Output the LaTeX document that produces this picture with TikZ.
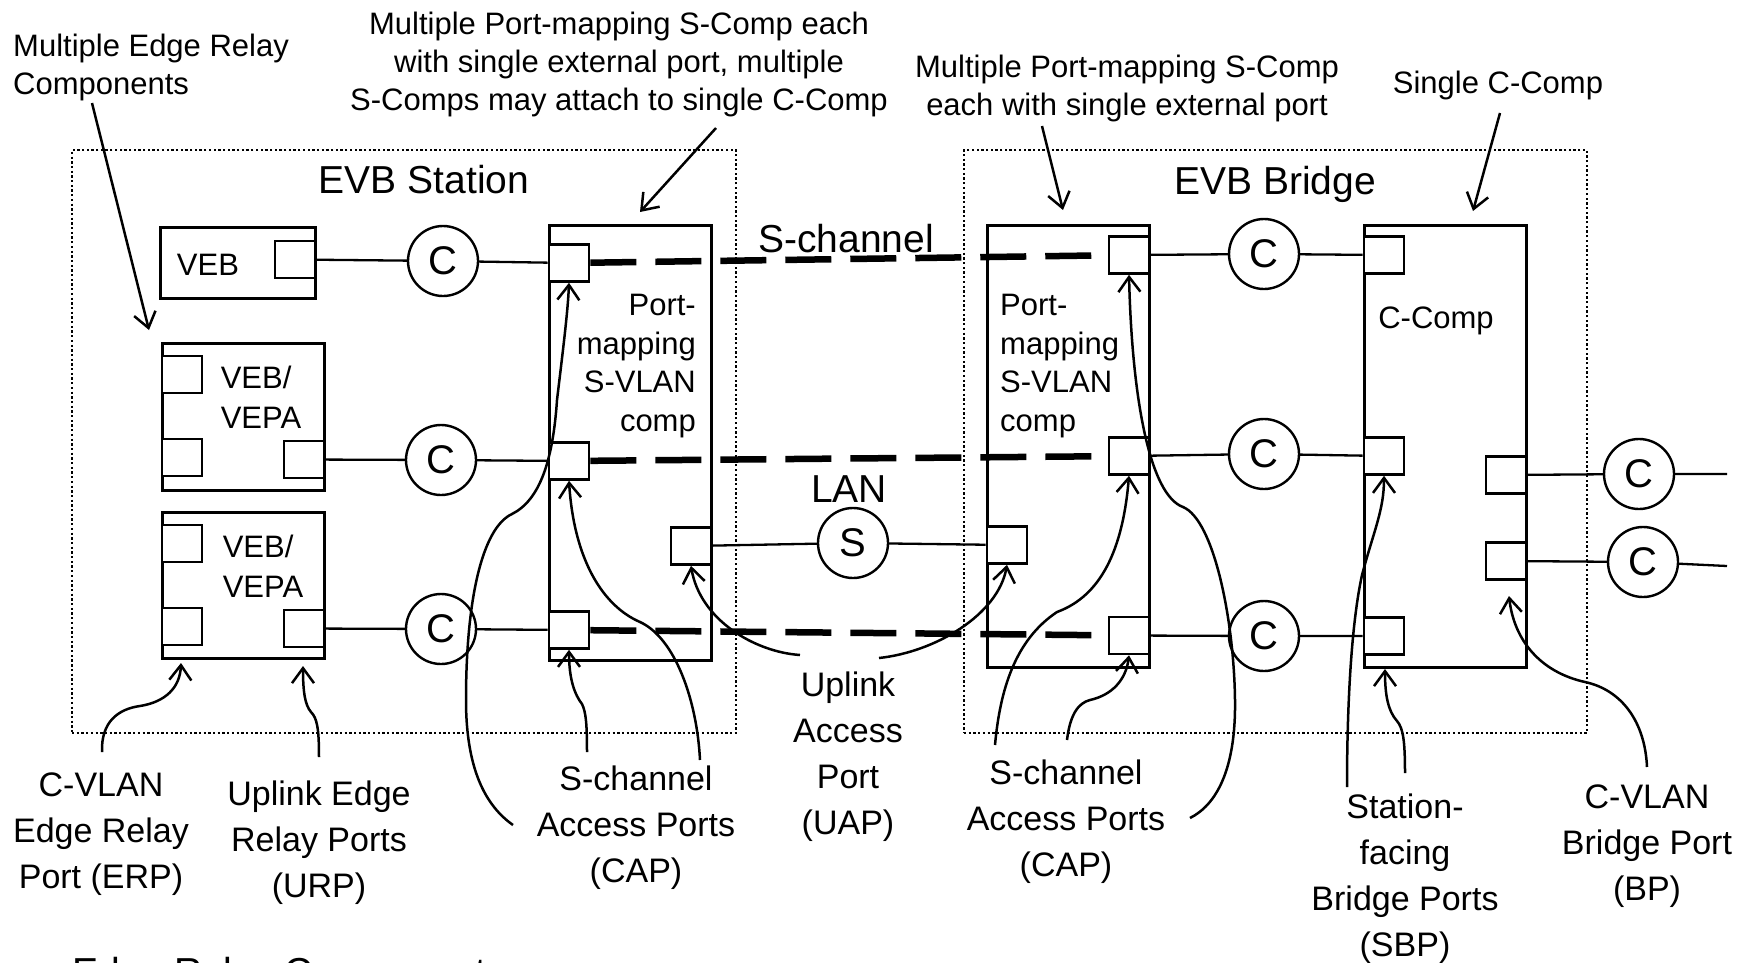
\documentclass[tikz,border=0pt]{standalone}
\usepackage{fontspec}
\setmainfont{Liberation Sans}
\usetikzlibrary{arrows.meta}

\newcommand{\bigtxt}{\fontsize{39}{44}\selectfont}
\newcommand{\toptxt}{\fontsize{31}{38}\selectfont}
\newcommand{\boxtxt}{\fontsize{31}{38.5}\selectfont}
\newcommand{\bottxt}{\fontsize{34}{46}\selectfont}

\begin{document}
\begin{tikzpicture}[x=1pt,y=-1pt,
        grp/.style={draw,line width=2.3pt,dash pattern=on 2.3pt off 2.4pt,inner sep=0},
        comp/.style={draw,fill=white,line width=3pt,inner sep=0},
        port/.style={draw,fill=white,line width=2.6pt,minimum width=40pt,minimum height=37pt,inner sep=0},
        chan/.style={draw,circle,fill=white,line width=2.4pt,minimum size=70pt,inner sep=0,font=\fontsize{40}{40}\selectfont},
        link/.style={line width=2.3pt},
        schan/.style={line width=6.5pt,dash pattern=on 46pt off 19pt},
        callout/.style={line width=2.5pt,-{Straight Barb[length=15pt,width=22pt]}},
        txt/.style={inner sep=0}]
            \useasboundingbox (0,0) rectangle (1749,962);

            \node[grp,minimum width=664pt,minimum height=583pt] (station) at (404,441.5) {};
            \node[grp,minimum width=623pt,minimum height=583pt] (bridge) at (1275.5,441.5) {};
            \node[txt,font=\bigtxt,anchor=base] (station_t) at (424,193) {EVB Station};
            \node[txt,font=\bigtxt,anchor=base] (bridge_t) at (1275,194) {EVB Bridge};

            \node[comp,minimum width=155pt,minimum height=71pt] (veb) at (237.5,262.5) {};
            \node[port] (veb_p) at (295,259.5) {};
            \node[txt,font=\boxtxt,anchor=base] (veb_t) at (208,275) {VEB};

            \node[comp,minimum width=162pt,minimum height=147pt] (vepa_1) at (243,416.5) {};
            \node[port] (vepa_1_tl) at (182,374.5) {};
            \node[port] (vepa_1_bl) at (182,457.5) {};
            \node[port] (vepa_1_br) at (304,459.5) {};
            \node[txt,font=\fontsize{31}{40}\selectfont,align=left] (vepa_1_t) at (261,397) {VEB/\\VEPA};

            \node[comp,minimum width=162pt,minimum height=146pt] (vepa_2) at (243,585) {};
            \node[port] (vepa_2_tl) at (182,543.5) {};
            \node[port] (vepa_2_bl) at (182,626.5) {};
            \node[port] (vepa_2_br) at (304,628.5) {};
            \node[txt,font=\fontsize{31}{40}\selectfont,align=left] (vepa_2_t) at (263,566) {VEB/\\VEPA};

            \node[chan] (c_s1) at (443,261) {C};
            \node[chan] (c_s2) at (441,460) {C};
            \node[chan] (c_s3) at (441,629) {C};

            \node[comp,minimum width=162pt,minimum height=435pt] (scomp_s) at (630,442.5) {};
            \node[port] (cap_s1) at (569,263) {};
            \node[port] (cap_s2) at (569,461) {};
            \node[port] (cap_s3) at (569,630) {};
            \node[port] (uap_s) at (691,546) {};
            \node[txt,font=\boxtxt,align=right,anchor=east] (scomp_s_t) at (696,366) {Port-\\mapping\\S-VLAN\\comp};

            \node[comp,minimum width=162pt,minimum height=442pt] (scomp_b) at (1068,446) {};
            \node[port] (cap_b1) at (1129,255) {};
            \node[port] (cap_b2) at (1129,456) {};
            \node[port] (cap_b3) at (1129,635.5) {};
            \node[port] (uap_b) at (1007,545) {};
            \node[txt,font=\boxtxt,align=left,anchor=west] (scomp_b_t) at (1000,366) {Port-\\mapping\\S-VLAN\\comp};

            \node[chan] (c_b1) at (1264,254) {C};
            \node[chan] (c_b2) at (1264,454) {C};
            \node[chan] (c_b3) at (1264,636) {C};

            \node[comp,minimum width=162pt,minimum height=442pt] (ccomp) at (1445,446) {};
            \node[port] (sbp_1) at (1384,255) {};
            \node[port] (sbp_2) at (1384,456) {};
            \node[port] (sbp_3) at (1384,636) {};
            \node[port] (bp_1) at (1506,475) {};
            \node[port] (bp_2) at (1506,561) {};
            \node[txt,font=\boxtxt,anchor=base] (ccomp_t) at (1436,328) {C-Comp};

            \node[chan] (c_o1) at (1639,474) {C};
            \node[chan] (c_o2) at (1643,562) {C};
            \coordinate (end_1) at (1727,474);
            \coordinate (end_2) at (1727,566);

            \node[chan] (lan_s) at (853,543) {S};
            \node[txt,font=\bigtxt,anchor=base] (lan_t) at (849,502) {LAN};
            \node[txt,font=\bigtxt,anchor=base] (schan_t) at (846,252) {S-channel};

            \draw[link] (veb_p) -- (c_s1) -- (cap_s1);
            \draw[link] (vepa_1_br) -- (c_s2) -- (cap_s2);
            \draw[link] (vepa_2_br) -- (c_s3) -- (cap_s3);
            \draw[link] (uap_s) -- (lan_s) -- (uap_b);
            \draw[link] (cap_b1) -- (c_b1) -- (sbp_1);
            \draw[link] (cap_b2) -- (c_b2) -- (sbp_2);
            \draw[link] (cap_b3) -- (c_b3) -- (sbp_3);
            \draw[link] (bp_1) -- (c_o1) -- (end_1);
            \draw[link] (bp_2) -- (c_o2) -- (end_2);

            \draw[schan] (cap_s1) -- (cap_b1);
            \draw[schan] (cap_s2) -- (cap_b2);
            \draw[schan] (cap_s3) -- (cap_b3);

            %%%%%%%%%%%%%%%%%%%%
            \node[txt,font=\toptxt,align=left,anchor=west] (erc_t) at (13,67) {Multiple Edge Relay\\Components};
            \node[txt,font=\toptxt,align=center] (pm_s_t) at (619,64) {Multiple Port-mapping S-Comp each\\with single external port, multiple\\S-Comps may attach to single C-Comp};
            \node[txt,font=\toptxt,align=center] (pm_b_t) at (1127,88) {Multiple Port-mapping S-Comp\\each with single external port};
            \node[txt,font=\toptxt,anchor=base] (cc_t) at (1498,93) {Single C-Comp};

            \node[txt,font=\bottxt,align=center] (erp_t) at (101,834) {C-VLAN\\Edge Relay\\Port (ERP)};
            \node[txt,font=\bottxt,align=center] (urp_t) at (319,843) {Uplink Edge\\Relay Ports\\(URP)};
            \node[txt,font=\bottxt,align=center] (cap_s_t) at (636,828) {S-channel\\Access Ports\\(CAP)};
            \node[txt,font=\bottxt,align=center] (uap_t) at (848,757) {Uplink\\Access\\Port\\(UAP)};
            \node[txt,font=\bottxt,align=center] (cap_b_t) at (1066,822) {S-channel\\Access Ports\\(CAP)};
            \node[txt,font=\bottxt,align=center] (sbp_t) at (1405,879) {Station-\\facing\\Bridge Ports\\(SBP)};
            \node[txt,font=\bottxt,align=center] (bp_t) at (1647,846) {C-VLAN\\Bridge Port\\(BP)};
            \node[txt,font=\bigtxt,anchor=base west] (erc_b_t) at (72,985) {Edge Relay Components};

            \coordinate (erc_a) at (92,103);
            \coordinate (erc_b) at (149,330);
            \draw[callout] (erc_a) -- (erc_b);
            \coordinate (pm_s_a) at (716,128);
            \coordinate (pm_s_b) at (640,212);
            \draw[callout] (pm_s_a) -- (pm_s_b);
            \coordinate (pm_b_a) at (1042,126);
            \coordinate (pm_b_b) at (1063,210);
            \draw[callout] (pm_b_a) -- (pm_b_b);
            \coordinate (cc_a) at (1500,113);
            \coordinate (cc_b) at (1473,211);
            \draw[callout] (cc_a) -- (cc_b);

            \coordinate (erp_a) at (102,752);
            \coordinate (erp_b) at (181,663);
            \draw[callout] (erp_a) .. controls (101,722) and (118,709) .. (140,706)
                .. controls (165,702) and (180,688) .. (erp_b);
            \coordinate (urp_a) at (319,757);
            \coordinate (urp_b) at (303,666);
            \draw[callout] (urp_a) .. controls (319,728) and (317,718) .. (311,712)
                .. controls (305,705) and (303,692) .. (urp_b);

            \coordinate (cap_s_a) at (513,825);
            \coordinate (cap_s_b) at (700,760);
            \coordinate (cap_s_c) at (587,752);
            \draw[callout] (cap_s_a) .. controls (486,806) and (466,770) .. (466,700)
                .. controls (466,600) and (482,528) .. (512,514)
                .. controls (540,500) and (553,460) .. (557,400)
                .. controls (563,350) and (568,310) .. (cap_s1.south);
            \draw[callout] (cap_s_b) .. controls (697,700) and (675,638) .. (640,622)
                .. controls (603,606) and (574,560) .. (cap_s2.south);
            \draw[callout] (cap_s_c) .. controls (587,725) and (586,712) .. (582,704)
                .. controls (575,695) and (569,680) .. (cap_s3.south);

            \coordinate (uap_l) at (800,655);
            \coordinate (uap_r) at (879,658);
            \draw[callout] (uap_l) .. controls (755,652) and (700,620) .. (uap_s.south);
            \draw[callout] (uap_r) .. controls (935,652) and (998,615) .. (uap_b.south);

            \coordinate (cap_b_a) at (1190,818);
            \coordinate (cap_b_b) at (995,745);
            \coordinate (cap_b_c) at (1067,740);
            \draw[callout] (cap_b_a) .. controls (1216,805) and (1236,770) .. (1235,700)
                .. controls (1234,620) and (1214,520) .. (1183,507)
                .. controls (1150,495) and (1132,400) .. (cap_b1.south);
            \draw[callout] (cap_b_b) .. controls (1000,690) and (1015,640) .. (1057,612)
                .. controls (1095,598) and (1122,560) .. (cap_b2.south);
            \draw[callout] (cap_b_c) .. controls (1070,715) and (1078,703) .. (1090,700)
                .. controls (1112,695) and (1126,680) .. (cap_b3.south);

            \coordinate (sbp_a) at (1347,787);
            \coordinate (sbp_b) at (1405,773);
            \coordinate (sbp_c) at (1385,669);
            \draw[callout] (sbp_a) .. controls (1347,720) and (1350,630) .. (1362,575)
                .. controls (1374,530) and (1384,510) .. (sbp_2.south);
            \draw[callout] (sbp_b) .. controls (1405,740) and (1403,728) .. (1397,721)
                .. controls (1388,711) and (1385,695) .. (sbp_c);

            \coordinate (bp_a) at (1647,767);
            \coordinate (bp_b) at (1509,596);
            \draw[callout] (bp_a) .. controls (1645,722) and (1622,690) .. (1585,682)
                .. controls (1540,672) and (1514,640) .. (bp_b);
        \end{tikzpicture}
\end{document}
